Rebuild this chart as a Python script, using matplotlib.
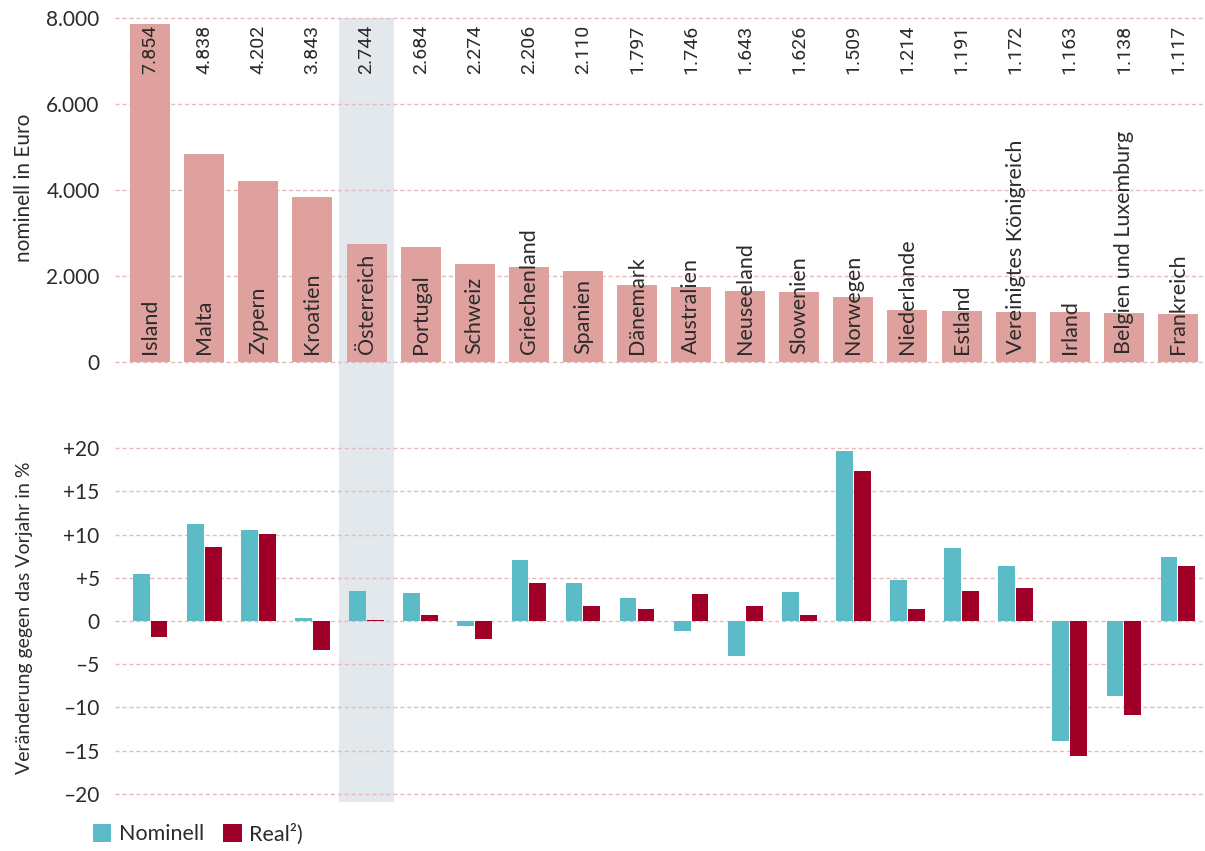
import numpy as np
import matplotlib.pyplot as plt
import matplotlib.transforms as mtrans
from matplotlib.patches import Rectangle, Patch

plt.rcParams['font.family'] = ['Lato', 'DejaVu Sans']

countries = ['Island', 'Malta', 'Zypern', 'Kroatien', 'Österreich', 'Portugal', 'Schweiz',
             'Griechenland', 'Spanien', 'Dänemark', 'Australien', 'Neuseeland', 'Slowenien',
             'Norwegen', 'Niederlande', 'Estland', 'Vereinigtes Königreich', 'Irland',
             'Belgien und Luxemburg', 'Frankreich']
nominal_euro = [7854, 4838, 4202, 3843, 2744, 2684, 2274, 2206, 2110, 1797, 1746, 1643,
                1626, 1509, 1214, 1191, 1172, 1163, 1138, 1117]
change_nominal = [5.4, 11.2, 10.5, 0.3, 3.5, 3.2, -0.6, 7.0, 4.4, 2.7, -1.1, -4.0,
                  3.3, 19.6, 4.7, 8.4, 6.4, -13.9, -8.7, 7.4]
change_real = [-1.8, 8.6, 10.1, -3.3, 0.15, 0.7, -2.1, 4.4, 1.7, 1.35, 3.1, 1.7,
               0.65, 17.3, 1.35, 3.5, 3.8, -15.6, -10.9, 6.4]
highlight = 'Österreich'

top_ticks = [0, 2000, 4000, 6000, 8000]
top_ticklabels = ['0', '2.000', '4.000', '6.000', '8.000']
bot_ticks = [-20, -15, -10, -5, 0, 5, 10, 15, 20]
bot_ticklabels = ['–20', '–15', '–10', '–5', '0', '+5', '+10', '+15', '+20']

c_top = '#DFA19D'
c_nom = '#5BBCC8'
c_real = '#A00028'
c_band = '#E3E8EC'
c_grid = '#E6BBBE'
c_text = '#2B2B2B'

W, H = 1205, 851
fig = plt.figure(figsize=(W / 100, H / 100), dpi=100)


def px_axes(left, top, right, bottom):
    return fig.add_axes([left / W, 1 - bottom / H, (right - left) / W, (bottom - top) / H])


# small margins so the outer grid lines are not clipped
ax1 = px_axes(115, 18 - 4.3, 1205, 362 + 4.3)
ax2 = px_axes(115, 448 - 4.3, 1205, 794 + 4.3)

x = np.arange(len(countries))

for ax in (ax1, ax2):
    ax.set_facecolor('none')
    ax.set_xlim(-0.65, 19.5)
    for s in ax.spines.values():
        s.set_visible(False)
    ax.set_xticks([])
    ax.tick_params(axis='y', length=0, pad=11, labelsize=15, labelcolor=c_text)
    ax.grid(axis='y', color=c_grid, linestyle=(0, (3, 2)), linewidth=1)
    ax.set_axisbelow(True)

# top panel
ax1.set_ylim(-100, 8100)
ax1.set_yticks(top_ticks)
ax1.set_yticklabels(top_ticklabels)
ax1.bar(x, nominal_euro, width=0.74, color=c_top, zorder=2)

for xi, name, val in zip(x, countries, nominal_euro):
    ax1.text(xi, 190, name, rotation=90, ha='center', va='bottom', fontsize=15.5,
             color=c_text, zorder=3)
    ax1.text(xi, 7840, f'{val:,}'.replace(',', '.'), rotation=90, ha='center', va='top',
             fontsize=14, color=c_text, family=['Roboto', 'DejaVu Sans'], zorder=3)

# bottom panel
ax2.set_ylim(-20.5, 20.5)
ax2.set_yticks(bot_ticks)
ax2.set_yticklabels(bot_ticklabels)
bw = 0.31
ax2.bar(x - 0.165, change_nominal, width=bw, color=c_nom, zorder=2)
ax2.bar(x + 0.165, change_real, width=bw, color=c_real, zorder=2)

# highlight band through both panels
hi = countries.index(highlight)
band_trans = mtrans.blended_transform_factory(ax1.transData, fig.transFigure)
band = Rectangle((hi - 0.5, 1 - 802 / H), 1.0, (802 - 18) / H, transform=band_trans,
                 facecolor=c_band, edgecolor='none', zorder=-5)
fig.add_artist(band)

fig.text(0.02, 1 - 188 / H, 'nominell in Euro', rotation=90, ha='center', va='center',
         fontsize=15, color=c_text)
fig.text(0.02, 1 - 618 / H, 'Veränderung gegen das Vorjahr in %', rotation=90,
         ha='center', va='center', fontsize=14, color=c_text)

handles = [Patch(facecolor=c_nom, label='Nominell'), Patch(facecolor=c_real, label='Real²)')]
fig.legend(handles=handles, loc='lower left', bbox_to_anchor=(0.061, -0.015), ncol=2,
           frameon=False, fontsize=15.5, handlelength=0.85, handleheight=0.85,
           handletextpad=0.35, columnspacing=0.9, labelcolor=c_text)

fig.savefig('out.png', dpi=100)
